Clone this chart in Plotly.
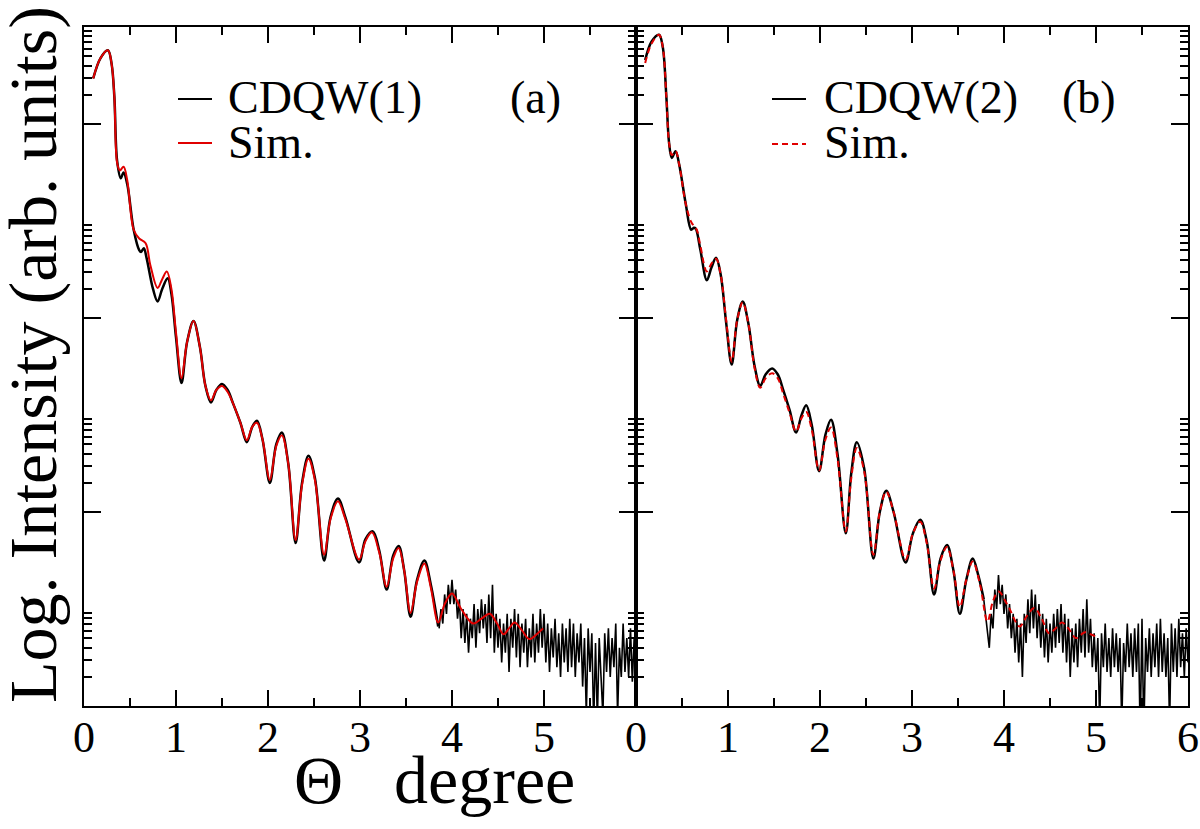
import numpy as np
import plotly.graph_objects as go

# ---------------- Panel (a): CDQW(1) ----------------
# smooth part of the measured curve (log10 intensity)
a_exp_x = [0.10, 0.18, 0.26, 0.30, 0.33, 0.36, 0.40, 0.43, 0.47, 0.54, 0.60, 0.62, 0.65, 0.68, 0.75, 0.80,
           0.85, 0.91, 0.95, 1.00, 1.06, 1.12, 1.19, 1.26, 1.32, 1.38, 1.44, 1.50, 1.56, 1.62, 1.70, 1.77,
           1.83, 1.88, 1.94, 2.02, 2.09, 2.15, 2.22, 2.30, 2.37, 2.44, 2.51, 2.61, 2.68, 2.76, 2.84, 2.99,
           3.06, 3.14, 3.21, 3.29, 3.36, 3.42, 3.48, 3.55, 3.62, 3.70, 3.77, 3.85]
a_exp_log = [6.47, 6.68, 6.76, 6.62, 6.28, 5.62, 5.44, 5.50, 5.38, 4.91, 4.70, 4.68, 4.72, 4.62, 4.30, 4.17,
             4.30, 4.41, 4.25, 3.80, 3.33, 3.75, 3.97, 3.70, 3.30, 3.13, 3.26, 3.32, 3.26, 3.12, 2.92, 2.72,
             2.88, 2.94, 2.75, 2.30, 2.70, 2.82, 2.50, 1.68, 2.30, 2.58, 2.35, 1.50, 1.95, 2.14, 1.95, 1.48,
             1.72, 1.80, 1.60, 1.20, 1.55, 1.65, 1.40, 0.92, 1.30, 1.50, 1.25, 0.82]
# noisy tail of the measured curve, step 0.02 from 3.86
a_noise_start = 3.86
a_noise_log = [0.80, 1.00, 0.85, 1.15, 0.95, 1.25, 1.05, 1.30, 1.05, 1.20, 0.90, 1.10, 0.70, 1.00, 0.65, 0.95,
               0.55, 0.90, 0.70, 1.05, 0.60, 1.00, 0.75, 1.10, 0.80, 1.05, 0.65, 1.15, 0.70, 1.25, 0.55, 0.95,
               0.60, 0.90, 0.45, 0.85, 0.55, 0.95, 0.35, 0.90, 0.60, 1.00, 0.50, 0.95, 0.40, 0.85, 0.55, 0.90,
               0.40, 0.80, 0.50, 0.95, 0.45, 0.85, 0.55, 1.00, 0.60, 0.95, 0.45, 0.85, 0.35, 0.80, 0.50, 0.90,
               0.40, 0.75, 0.30, 0.85, 0.45, 0.80, 0.35, 0.90, 0.40, 0.85, 0.30, 0.75, 0.45, 0.85, 0.20, 0.70,
               -0.10, 0.80, 0.35, 0.75, -0.20, 0.65, -0.15, 0.70, 0.30, -0.10, 0.75, 0.35, 0.80, 0.30, 0.70, 0.40,
               0.85, -0.10, 0.60, 0.30, 0.85, 0.35, 0.70, 0.30, 0.80, 0.25, 0.70, 0.40]
a_sim_x = [0.10, 0.18, 0.26, 0.30, 0.33, 0.36, 0.39, 0.43, 0.47, 0.54, 0.60, 0.67, 0.72, 0.80, 0.85, 0.90,
           0.95, 1.00, 1.06, 1.12, 1.19, 1.26, 1.32, 1.38, 1.44, 1.50, 1.56, 1.62, 1.70, 1.77, 1.83, 1.88,
           1.94, 2.02, 2.09, 2.15, 2.22, 2.30, 2.37, 2.44, 2.51, 2.61, 2.68, 2.76, 2.84, 2.99, 3.06, 3.13,
           3.21, 3.29, 3.36, 3.42, 3.48, 3.55, 3.62, 3.70, 3.77, 3.85, 3.92, 4.00, 4.10, 4.23, 4.32, 4.41,
           4.49, 4.56, 4.62, 4.68, 4.76, 4.84, 4.92, 4.99]
a_sim_log = [6.47, 6.68, 6.76, 6.62, 6.28, 5.60, 5.52, 5.56, 5.42, 4.91, 4.82, 4.77, 4.55, 4.31, 4.40, 4.48,
             4.30, 3.85, 3.38, 3.75, 3.97, 3.70, 3.30, 3.15, 3.26, 3.30, 3.24, 3.12, 2.92, 2.74, 2.88, 2.92,
             2.75, 2.33, 2.68, 2.79, 2.50, 1.71, 2.28, 2.55, 2.33, 1.56, 1.93, 2.11, 1.93, 1.51, 1.70, 1.79,
             1.58, 1.23, 1.52, 1.63, 1.40, 0.96, 1.28, 1.47, 1.22, 0.86, 1.05, 1.16, 1.00, 0.85, 0.90, 0.95,
             0.85, 0.74, 0.80, 0.86, 0.78, 0.69, 0.74, 0.80]

# ---------------- Panel (b): CDQW(2) ----------------
b_exp_x = [0.10, 0.17, 0.25, 0.29, 0.33, 0.36, 0.39, 0.43, 0.47, 0.54, 0.60, 0.63, 0.65, 0.70, 0.77, 0.82,
           0.87, 0.92, 0.98, 1.04, 1.10, 1.16, 1.22, 1.29, 1.35, 1.41, 1.48, 1.54, 1.60, 1.67, 1.74, 1.80,
           1.85, 1.91, 1.99, 2.06, 2.12, 2.19, 2.28, 2.34, 2.40, 2.48, 2.58, 2.65, 2.72, 2.80, 2.93, 3.01,
           3.09, 3.16, 3.24, 3.31, 3.38, 3.45, 3.52, 3.59, 3.66, 3.72, 3.78]
b_exp_log = [6.66, 6.85, 6.92, 6.80, 6.28, 5.80, 5.65, 5.72, 5.58, 5.18, 4.91, 4.93, 4.92, 4.70, 4.39, 4.52,
             4.62, 4.45, 3.95, 3.52, 3.98, 4.17, 3.95, 3.50, 3.30, 3.42, 3.48, 3.42, 3.26, 3.05, 2.82, 3.00,
             3.10, 2.90, 2.42, 2.80, 2.95, 2.60, 1.78, 2.40, 2.72, 2.45, 1.52, 2.00, 2.22, 2.00, 1.48, 1.78,
             1.92, 1.70, 1.15, 1.52, 1.66, 1.40, 0.95, 1.30, 1.52, 1.35, 1.10]
b_noise_start = 3.78
b_noise_log = [1.10, 0.95, 0.75, 0.60, 0.95, 0.80, 1.20, 1.00, 1.35, 1.05, 1.25, 0.95, 1.15, 0.80, 1.05, 0.70,
               0.95, 0.55, 0.90, 0.45, 0.85, 0.30, 0.95, 0.65, 1.10, 0.75, 1.20, 0.80, 1.15, 0.70, 1.05, 0.60,
               0.95, 0.50, 0.90, 0.45, 0.85, 0.55, 0.95, 0.60, 1.00, 0.65, 1.05, 0.55, 0.95, 0.45, 0.90, 0.30,
               0.80, 0.45, 0.85, 0.40, 0.90, 0.55, 1.00, 0.50, 1.10, 0.55, 0.90, 0.40, 0.75, 0.35, 0.70, -0.20,
               0.75, 0.40, 0.85, 0.35, 0.70, 0.30, 0.80, 0.40, 0.75, 0.35, 0.70, -0.20, 0.65, 0.35, 0.85, 0.40,
               0.75, 0.30, 0.80, 0.35, 0.85, -0.30, 0.90, -0.30, 0.70, 0.35, 0.80, 0.30, 0.75, 0.40, 0.85, 0.30,
               0.90, 0.35, 0.75, 0.30, 0.70, -0.20, 0.85, 0.35, 0.80, 0.30, 0.90, 0.40, 0.75, 0.30, 0.80, 0.45]
b_sim_x = [0.10, 0.17, 0.25, 0.29, 0.33, 0.36, 0.39, 0.43, 0.47, 0.54, 0.60, 0.66, 0.70, 0.77, 0.82, 0.87,
           0.92, 0.98, 1.04, 1.10, 1.16, 1.22, 1.29, 1.35, 1.41, 1.48, 1.54, 1.60, 1.67, 1.74, 1.80, 1.85,
           1.91, 1.99, 2.06, 2.12, 2.19, 2.28, 2.34, 2.40, 2.48, 2.58, 2.65, 2.72, 2.80, 2.93, 3.01, 3.09,
           3.16, 3.24, 3.31, 3.38, 3.45, 3.52, 3.59, 3.66, 3.74, 3.82, 3.88, 3.94, 4.05, 4.17, 4.25, 4.33,
           4.41, 4.49, 4.56, 4.63, 4.70, 4.78, 4.83, 4.88, 4.94, 4.99]
b_sim_log = [6.63, 6.83, 6.92, 6.80, 6.28, 5.80, 5.68, 5.72, 5.58, 5.18, 4.99, 4.91, 4.74, 4.48, 4.56, 4.61,
             4.45, 3.98, 3.55, 3.98, 4.16, 3.95, 3.48, 3.28, 3.38, 3.43, 3.38, 3.22, 3.02, 2.83, 2.97, 3.03,
             2.85, 2.43, 2.75, 2.87, 2.55, 1.80, 2.35, 2.66, 2.42, 1.56, 2.00, 2.21, 2.00, 1.51, 1.78, 1.90,
             1.68, 1.21, 1.50, 1.64, 1.40, 1.02, 1.30, 1.49, 1.25, 0.87, 1.08, 1.18, 1.02, 0.82, 0.93, 1.01,
             0.90, 0.75, 0.80, 0.86, 0.80, 0.70, 0.73, 0.76, 0.74, 0.72]

x_ticks = [0, 1, 2, 3, 4, 5, 6]
a_tick_text = ["0", "1", "2", "3", "4", "5", ""]
b_tick_text = ["0", "1", "2", "3", "4", "5", "6"]
y_major = [1e0, 1e2, 1e4, 1e6]
y_minor = [m * d for d in y_major for m in range(2, 10)]

FONT = "Liberation Serif, Times New Roman, Times, serif"
W, H = 1200, 829


def px(x):
    return x / W


def py(y):
    return 1 - y / H


def pow10(v):
    return list(10.0 ** np.asarray(v, dtype=float))


def noise_x(start, vals):
    return list(np.round(start + 0.02 * np.arange(len(vals)), 2))


fig = go.Figure()
# panel (a)
fig.add_trace(go.Scatter(x=a_exp_x, y=pow10(a_exp_log), mode="lines", line=dict(color="black", width=2.5, shape="spline"),
                         name="CDQW(1)", showlegend=False, xaxis="x", yaxis="y"))
fig.add_trace(go.Scatter(x=noise_x(a_noise_start, a_noise_log), y=pow10(a_noise_log), mode="lines",
                         line=dict(color="black", width=1.6), name="CDQW(1)", showlegend=False, xaxis="x", yaxis="y"))
fig.add_trace(go.Scatter(x=a_sim_x, y=pow10(a_sim_log), mode="lines", line=dict(color="#e00000", width=2, shape="spline"),
                         name="Sim.", showlegend=False, xaxis="x", yaxis="y"))
# panel (b)
fig.add_trace(go.Scatter(x=b_exp_x, y=pow10(b_exp_log), mode="lines", line=dict(color="black", width=2.5, shape="spline"),
                         name="CDQW(2)", showlegend=False, xaxis="x2", yaxis="y2"))
fig.add_trace(go.Scatter(x=noise_x(b_noise_start, b_noise_log), y=pow10(b_noise_log), mode="lines",
                         line=dict(color="black", width=1.6), name="CDQW(2)", showlegend=False, xaxis="x2", yaxis="y2"))
fig.add_trace(go.Scatter(x=b_sim_x, y=pow10(b_sim_log), mode="lines",
                         line=dict(color="#e00000", width=2, shape="spline", dash="6px,4px"),
                         name="Sim.", showlegend=False, xaxis="x2", yaxis="y2"))

ydom = [py(706), py(27)]


def xaxis(domain, ticktext, anchor):
    return dict(domain=domain, range=[0, 6], anchor=anchor, tickmode="array", tickvals=x_ticks, ticktext=ticktext,
                ticks="inside", ticklen=16, tickwidth=2, tickcolor="black", automargin=False,
                ticklabelstandoff=-9,
                minor=dict(dtick=0.5, tick0=0, ticks="inside", ticklen=8, tickwidth=2, tickcolor="black"),
                showline=True, linewidth=2, linecolor="black", mirror="allticks",
                showgrid=False, zeroline=False, tickfont=dict(family=FONT, size=44, color="black"))


def yaxis(anchor):
    return dict(domain=ydom, type="log", range=[0, 7], anchor=anchor, tickmode="array", tickvals=y_major,
                showticklabels=False, ticks="inside", ticklen=17, tickwidth=2, tickcolor="black", automargin=False,
                minor=dict(tickmode="array", tickvals=y_minor, ticks="inside", ticklen=8, tickwidth=2, tickcolor="black"),
                showline=True, linewidth=2, linecolor="black", mirror="allticks", showgrid=False, zeroline=False)


fig.update_layout(
    width=W, height=H, autosize=False, margin=dict(l=0, r=0, t=0, b=0, pad=0),
    paper_bgcolor="white", plot_bgcolor="white", showlegend=False,
    xaxis=xaxis([px(84), px(636)], a_tick_text, "y"),
    xaxis2=xaxis([px(636), px(1188)], b_tick_text, "y2"),
    yaxis=yaxis("x"),
    yaxis2=yaxis("x2"),
)

# titles
fig.add_annotation(text="Θ   degree", xref="paper", yref="paper", x=px(434), y=py(780),
                   xanchor="center", yanchor="middle", showarrow=False,
                   font=dict(family=FONT, size=68, color="black"))
fig.add_annotation(text="Log. Intensity (arb. units)", xref="paper", yref="paper", x=px(33), y=py(355),
                   xanchor="center", yanchor="middle", textangle=-90, showarrow=False,
                   font=dict(family=FONT, size=68, color="black"))


# legend-like labels
def label(text, x, y, anchor="left"):
    fig.add_annotation(text=text, xref="paper", yref="paper", x=px(x), y=py(y), xanchor=anchor,
                       yanchor="middle", showarrow=False, font=dict(family=FONT, size=46, color="black"))


def sample(x0, y, color, dash="solid"):
    fig.add_shape(type="line", xref="paper", yref="paper", x0=px(x0), x1=px(x0 + 34), y0=py(y), y1=py(y),
                  line=dict(color=color, width=2, dash=dash))


sample(178, 99, "black")
sample(178, 143, "#e00000")
label("CDQW(1)", 226, 98)
label("Sim.", 226, 143)
label("(a)", 508, 98)

sample(772, 99, "black")
sample(772, 144, "#e00000", "6px,4px")
label("CDQW(2)", 822, 98)
label("Sim.", 822, 143)
label("(b)", 1060, 98)

fig.write_html("out.html", config={"displayModeBar": False},
               post_script="document.body.style.margin='0';document.body.style.overflow='hidden';")
